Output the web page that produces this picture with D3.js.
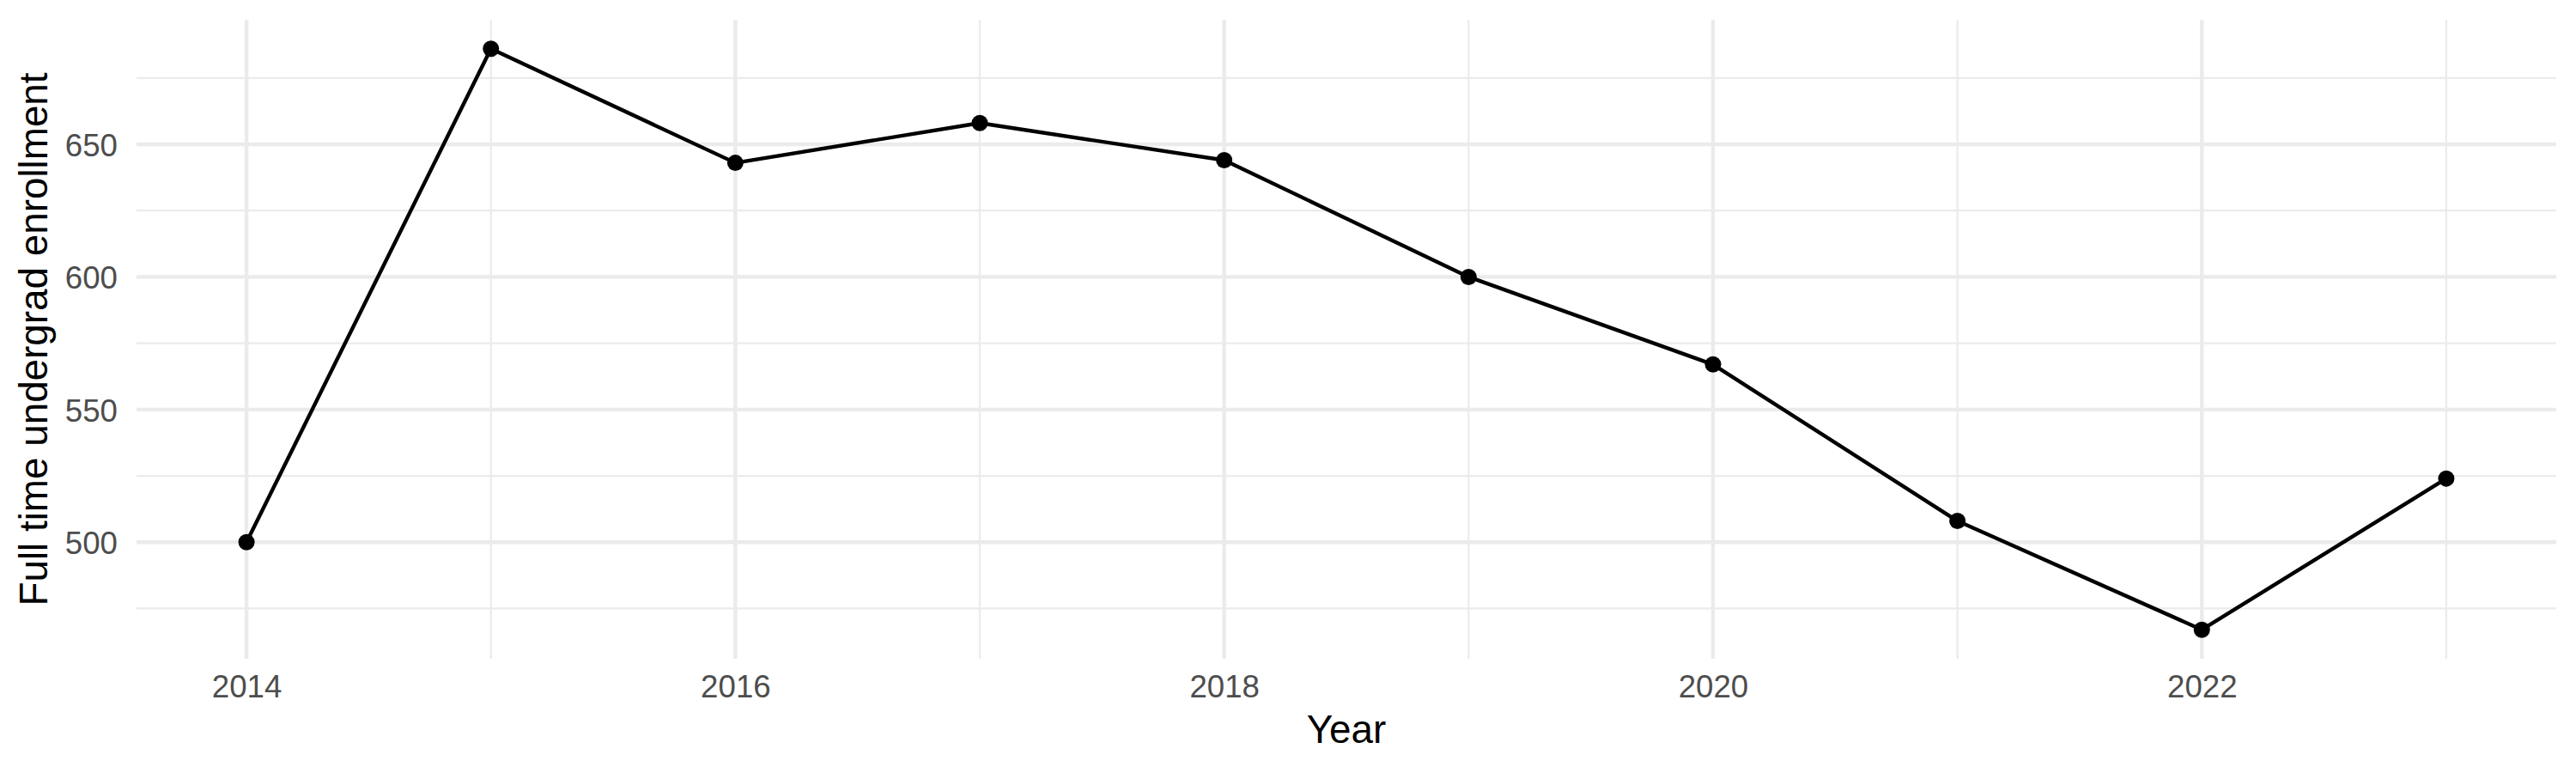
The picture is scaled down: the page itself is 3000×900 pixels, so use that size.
<!DOCTYPE html>
<html>
<head>
<meta charset="utf-8">
<script src="https://cdn.jsdelivr.net/npm/d3@7"></script>
<style>
  html, body { margin: 0; padding: 0; background: #ffffff; }
  svg { display: block; }
  text { font-family: "Liberation Sans", Arial, Helvetica, sans-serif; }
</style>
</head>
<body>
<svg id="chart" width="3000" height="900"></svg>
<script>
// ---- data ----
const years = [2014, 2015, 2016, 2017, 2018, 2019, 2020, 2021, 2022, 2023];
const enrollment = [500, 686, 643, 658, 644, 600, 567, 508, 467, 524];
const xMajorTicks = [2014, 2016, 2018, 2020, 2022];
const xMinorTicks = [2015, 2017, 2019, 2021, 2023];
const yMajorTicks = [500, 550, 600, 650];
const yMinorTicks = [475, 525, 575, 625, 675];
const xTitle = "Year";
const yTitle = "Full time undergrad enrollment";

// ---- layout ----
const W = 3000, H = 900;
const panel = { left: 159, right: 2977, top: 23, bottom: 767 };

const svg = d3.select("#chart");

const xMin = d3.min(years), xMax = d3.max(years);
const xPad = (xMax - xMin) * 0.05;
const x = d3.scaleLinear().domain([xMin - xPad, xMax + xPad]).range([panel.left, panel.right]);

const yMin = d3.min(enrollment), yMax = d3.max(enrollment);
const yPad = (yMax - yMin) * 0.05;
const y = d3.scaleLinear().domain([yMin - yPad, yMax + yPad]).range([panel.bottom, panel.top]);

const grid = svg.append("g");
// minor grid
grid.selectAll("line.ymin").data(yMinorTicks).enter().append("line")
  .attr("x1", panel.left).attr("x2", panel.right)
  .attr("y1", d => y(d)).attr("y2", d => y(d))
  .attr("stroke", "#EBEBEB").attr("stroke-width", 2.2);
grid.selectAll("line.xmin").data(xMinorTicks).enter().append("line")
  .attr("y1", panel.top).attr("y2", panel.bottom)
  .attr("x1", d => x(d)).attr("x2", d => x(d))
  .attr("stroke", "#EBEBEB").attr("stroke-width", 2.2);
// major grid
grid.selectAll("line.ymaj").data(yMajorTicks).enter().append("line")
  .attr("x1", panel.left).attr("x2", panel.right)
  .attr("y1", d => y(d)).attr("y2", d => y(d))
  .attr("stroke", "#EBEBEB").attr("stroke-width", 4.4);
grid.selectAll("line.xmaj").data(xMajorTicks).enter().append("line")
  .attr("y1", panel.top).attr("y2", panel.bottom)
  .attr("x1", d => x(d)).attr("x2", d => x(d))
  .attr("stroke", "#EBEBEB").attr("stroke-width", 4.4);

// axes (labels only, no lines/ticks)
const xAxis = d3.axisBottom(x).tickValues(xMajorTicks).tickFormat(d3.format("d")).tickSize(0).tickPadding(0);
const gx = svg.append("g").attr("transform", `translate(0,${panel.bottom})`).call(xAxis);
gx.select(".domain").remove();
gx.selectAll("text")
  .attr("dy", null).attr("y", 45)
  .attr("font-size", 36.67).attr("fill", "#4D4D4D")
  .style("font-family", '"Liberation Sans", Arial, Helvetica, sans-serif');

const yAxis = d3.axisLeft(y).tickValues(yMajorTicks).tickFormat(d3.format("d")).tickSize(0).tickPadding(0);
const gy = svg.append("g").attr("transform", `translate(${panel.left},0)`).call(yAxis);
gy.select(".domain").remove();
gy.selectAll("text")
  .attr("x", -22).attr("dy", "0.36em")
  .attr("font-size", 36.67).attr("fill", "#4D4D4D")
  .style("font-family", '"Liberation Sans", Arial, Helvetica, sans-serif');

// line
const pts = years.map((yr, i) => [yr, enrollment[i]]);
const line = d3.line().x(d => x(d[0])).y(d => y(d[1]));
svg.append("path").datum(pts)
  .attr("d", line)
  .attr("fill", "none").attr("stroke", "#000000").attr("stroke-width", 4.4)
  .attr("stroke-linejoin", "round").attr("stroke-linecap", "butt");

// points
svg.selectAll("circle.pt").data(pts).enter().append("circle")
  .attr("cx", d => x(d[0])).attr("cy", d => y(d[1]))
  .attr("r", 9.5).attr("fill", "#000000");

// titles
svg.append("text")
  .attr("x", (panel.left + panel.right) / 2).attr("y", 865)
  .attr("text-anchor", "middle").attr("font-size", 45.8).attr("fill", "#000000")
  .text(xTitle);

svg.append("text")
  .attr("transform", `translate(55,${(panel.top + panel.bottom) / 2}) rotate(-90)`)
  .attr("text-anchor", "middle").attr("font-size", 45.8).attr("fill", "#000000")
  .text(yTitle);
</script>
</body>
</html>
